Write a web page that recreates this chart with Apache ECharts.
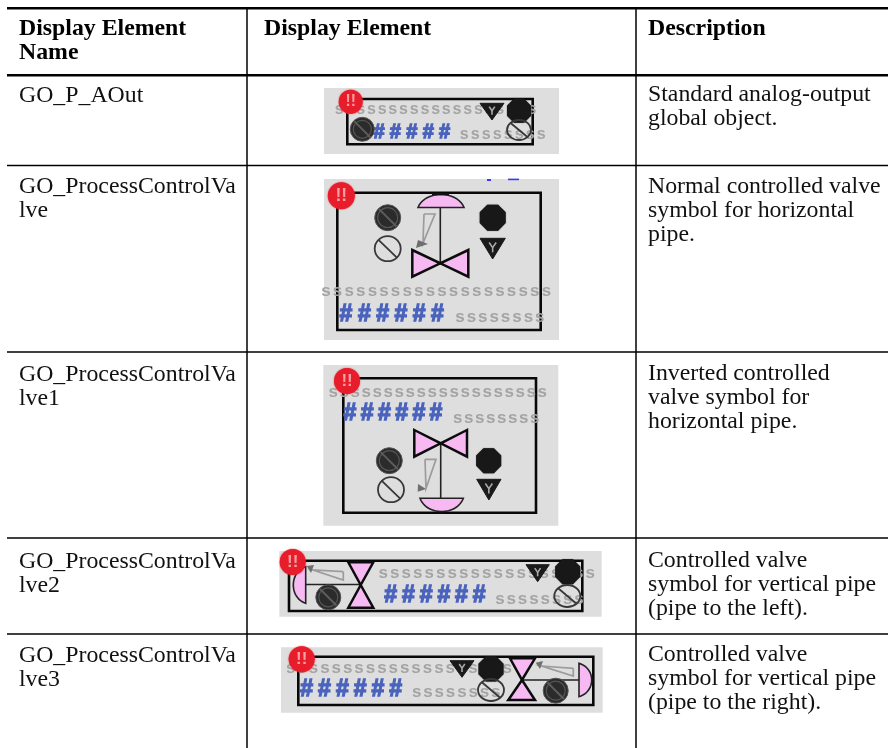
<!DOCTYPE html>
<html><head><meta charset="utf-8">
<style>html,body{margin:0;padding:0;background:#fff}#c{width:888px;height:748px}</style>
<script src="https://cdn.jsdelivr.net/npm/echarts@6/dist/echarts.min.js"></script>
</head><body><div id="c"></div>
<script>
const headers = [["Display Element","Name"],["Display Element"],["Description"]];
const elementNames = [["GO_P_AOut"],["GO_ProcessControlVa","lve"],["GO_ProcessControlVa","lve1"],["GO_ProcessControlVa","lve2"],["GO_ProcessControlVa","lve3"]];
const descriptions = [
 ["Standard analog-output","global object."],
 ["Normal controlled valve","symbol for horizontal","pipe."],
 ["Inverted controlled","valve symbol for","horizontal pipe."],
 ["Controlled valve","symbol for vertical pipe","(pipe to the left)."],
 ["Controlled valve","symbol for vertical pipe","(pipe to the right)."]
];

const g = [];
const SERIF = '"Liberation Serif","Times New Roman",serif';
const SANS = '"Liberation Sans",Arial,sans-serif';
const PINK = '#f6b9f2', INK = '#0c0c0c';

function text(t,x,y,font,fill){
  g.push({type:'text',z:12,style:{text:t,x:x,y:y,font:font,fill:fill,align:'left',verticalAlign:'top'}});
}
function line(x1,y1,x2,y2,w,c,z){g.push({type:'line',shape:{x1,y1,x2,y2},style:{stroke:c||'#000',lineWidth:w},z:z||2});}
function rect(x,y,w,h,st,z){g.push({type:'rect',shape:{x,y,width:w,height:h},style:st,z:z||3});}
function poly(pts,st,z){g.push({type:'polygon',shape:{points:pts},style:st,z:z||5});}

function alarm(x,y,r){
  g.push({type:'circle',shape:{cx:x,cy:y,r:r},style:{fill:'#e81d2c',shadowBlur:1.5,shadowColor:'#e81d2c'},z:10});
  g.push({type:'text',z:11,style:{text:'!!',x:x,y:y,font:'bold '+(r*1.3)+'px '+SANS,fill:'#f7a0a0',align:'center',verticalAlign:'middle'}});
}
function sRow(x,y,n,dx,size){
  for(let i=0;i<n;i++){
    g.push({type:'text',z:7,style:{text:'s',x:x+i*dx,y:y,font:'bold '+size+'px '+SANS,fill:'#a4a4a4',align:'center',verticalAlign:'middle',shadowBlur:1.5,shadowColor:'#a89878'}});
  }
}
function hashRow(x,y,n,dx,size){
  for(let i=0;i<n;i++){
    g.push({type:'text',z:7,style:{text:'#',x:x+i*dx,y:y,font:'bold '+size+'px '+SANS,fill:'#4a63bd',stroke:'#4a63bd',lineWidth:1.3,align:'center',verticalAlign:'middle',shadowBlur:1,shadowColor:'#4a63bd'}});
  }
}
function slash(x,y,rx,ry,c,w){
  const k=0.66;
  line(x-rx*k,y-ry*k,x+rx*k,y+ry*k,w,c,9);
}
function darkCircle(x,y,r){
  g.push({type:'circle',shape:{cx:x,cy:y,r:r},style:{fill:'#2b2b2b',stroke:'#555',lineWidth:1},z:8});
  g.push({type:'circle',shape:{cx:x,cy:y,r:r-3},style:{fill:'none',stroke:'#555',lineWidth:1.2},z:9});
  slash(x,y,r,r,'#5c5c5c',2);
}
function openCircle(x,y,rx,ry){
  g.push({type:'ellipse',shape:{cx:x,cy:y,rx:rx,ry:ry},style:{fill:'none',stroke:'#383838',lineWidth:1.8},z:9});
  slash(x,y,rx*1.1,ry*1.1,'#383838',1.8);
}
function octagon(x,y,r){
  const p=[];for(let i=0;i<8;i++){const a=Math.PI/8+i*Math.PI/4;p.push([x+r*Math.cos(a),y+r*Math.sin(a)]);}
  poly(p,{fill:'#181818',shadowBlur:1,shadowColor:'#181818'},8);
}
function vTri(x1,x2,y1,y2){
  const m=(x1+x2)/2,h=y2-y1;
  poly([[x1,y1],[x2,y1],[m,y2]],{fill:'#1a1a1a',stroke:'#1a1a1a',lineWidth:1,lineJoin:'round'},8);
  const c='#a8a8a8';
  g.push({type:'polyline',shape:{points:[[m-h*0.17,y1+h*0.2],[m,y1+h*0.45],[m+h*0.17,y1+h*0.2]]},style:{fill:'none',stroke:c,lineWidth:1.6},z:9});
  line(m,y1+h*0.45,m,y1+h*0.68,1.6,c,9);
}
function ramp(pts,tip,tipBase){
  g.push({type:'polyline',shape:{points:pts.concat([pts[0]])},style:{fill:'none',stroke:'#9c9c9c',lineWidth:1.7},z:5});
  poly([tip].concat(tipBase),{fill:'#6e6e6e'},5);
}
function valveBody(pts){
  poly(pts,{fill:PINK,stroke:INK,lineWidth:2.5,lineJoin:'miter'},5);
}
function bez(p0,p1,p2,p3){
  const out=[];
  for(let i=0;i<=24;i++){const t=i/24,u=1-t;
    out.push([u*u*u*p0[0]+3*u*u*t*p1[0]+3*u*t*t*p2[0]+t*t*t*p3[0],u*u*u*p0[1]+3*u*u*t*p1[1]+3*u*t*t*p2[1]+t*t*t*p3[1]]);}
  return out;
}
function domeDown(x1,x2,y,top){ // flat edge at y, bulge to top
  const h=(top-y)*4/3;
  poly(bez([x1,y],[x1+(x2-x1)*0.15,y+h],[x2-(x2-x1)*0.15,y+h],[x2,y]),{fill:PINK,stroke:'#222',lineWidth:1.6});
}
function domeSide(x,bulge,y1,y2){
  const b=x+(bulge-x)*4/3;
  poly(bez([x,y1],[b,y1+(y2-y1)*0.15],[b,y2-(y2-y1)*0.15],[x,y2]),{fill:PINK,stroke:'#222',lineWidth:1.6});
}
function frame(x1,y1,x2,y2){rect(x1,y1,x2-x1,y2-y1,{fill:'none',stroke:'#080808',lineWidth:2.6});}
function bg(x1,y1,x2,y2){rect(x1,y1,x2-x1,y2-y1,{fill:'#dedede'},1);}

// table rules
line(7,8.3,888,8.3,2.6);
line(7,75.3,888,75.3,2.6);
line(7,165.5,888,165.5,1.5);
line(7,352,888,352,1.5);
line(7,538,888,538,1.5);
line(7,634,888,634,1.5);
line(247,8,247,748,1.5);
line(636,8,636,748,1.5);

// text
const HF='bold 23.8px '+SERIF, BF='23.8px '+SERIF;
const LH=24;
const nameTop=[84,175,363,550,644], descTop=[83,175,362,549,643];
text(headers[0][0],19,17,HF,'#000');text(headers[0][1],19,41,HF,'#000');
text(headers[1][0],264,17,HF,'#000');
text(headers[2][0],648,17,HF,'#000');
elementNames.forEach((ls,i)=>ls.forEach((t,j)=>text(t,19,nameTop[i]+j*LH,BF,'#111')));
descriptions.forEach((ls,i)=>ls.forEach((t,j)=>text(t,648,descTop[i]+j*LH,BF,'#111')));

// icon 1
bg(324,88,559,154);frame(347.3,99,532.7,144.3);
sRow(339.3,110,19,10.7,16);darkCircle(362.3,129.3,12);hashRow(379,132,5,16.4,20);sRow(464.3,134.5,8,11,16);
vTri(480,504,103.3,120);octagon(519,110.7,13);openCircle(519,130,12,10);alarm(350.7,101.7,12);

// icon 2
bg(324,179,559,340);frame(337.3,192.7,540.7,330);
line(440.3,205,440.3,263,1.6,'#222',4);
domeDown(418,464,207.5,194.5);
line(432,194,449,194,2,'#111',6);
valveBody([[412.3,250],[440.3,263.3],[412.3,276.7]]);valveBody([[468.3,250],[440.3,263.3],[468.3,276.7]]);
ramp([[424,214],[435,214],[423,243]],[416,248],[[418,240],[428,244]]);
darkCircle(387.7,217.7,13);openCircle(387.7,248.7,13,12.5);octagon(492.7,217.7,14);vTri(480,505.3,238.3,259);
sRow(326,291,20,11.6,17);hashRow(346,314.5,6,18.3,23);sRow(460,317.5,8,11.4,17);
rect(508,178.6,11,1.6,{fill:'#3a3aee'},4);rect(487,179,4,2,{fill:'#3a3aee'},4);
alarm(341.3,195.7,13.5);

// icon 3
bg(323.3,365,558.3,525.7);frame(343.3,378.3,536,512.7);
line(440.7,443,440.7,499,1.6,'#222',4);
valveBody([[414.3,430],[440.7,443.3],[414.3,456.7]]);valveBody([[467,430],[440.7,443.3],[467,456.7]]);
domeDown(420,463.3,498.3,511.5);
ramp([[425,459.3],[436,459.3],[426,488.3]],[417.7,491.7],[[418,484],[426,489]]);
darkCircle(389.3,460.7,13);openCircle(391,489.7,13,12.5);octagon(488.7,460.7,13.5);vTri(476.7,501,479.3,500);
sRow(333.3,392.5,20,11,17);hashRow(350,414,6,17.2,23);sRow(457.7,418,8,11,17);
alarm(347,381,13);

// icon 4
bg(279.3,551,601.7,616.7);frame(289,560.7,582.3,611);
line(305.7,584.5,360.7,584.5,1.6,'#222',4);
domeSide(305.7,293.3,566.7,603.3);
valveBody([[348.3,562.3],[373.3,562.3],[360.7,585]]);valveBody([[348.3,607.7],[373.3,607.7],[360.7,585]]);
ramp([[343.3,571.7],[343.3,580],[313,570]],[306.7,566],[[314,565],[311,573]]);
darkCircle(328.3,597.3,12.5);
sRow(383.3,573,19,11.5,17);hashRow(390.7,595.7,6,17.7,23);sRow(500,599,8,11.3,17);
vTri(526,549.3,564.7,581.7);octagon(567.7,571.7,13.5);openCircle(567.3,596,13,11);
alarm(292.7,562,13);

// icon 5
bg(281,647.3,602.7,712.7);frame(298.3,656.7,593.3,705);
line(522,680,579,680,1.6,'#222',4);
domeSide(579,591.7,663.3,696.7);
valveBody([[510,658.3],[535,658.3],[522,680]]);valveBody([[508.3,700],[535,700],[522,680]]);
ramp([[573.3,668.3],[573.3,676],[541.7,666]],[535.7,662.7],[[543,661],[540,669]]);
darkCircle(555.7,690.7,12.5);
sRow(290.7,668,20,11.4,17);hashRow(306.7,689.3,6,17.8,23);sRow(416.7,692.5,8,11.3,17);
vTri(450,474,660.7,677.3);octagon(491,669,13.5);openCircle(491,690,13,11);
alarm(301.7,659.3,13);

const chart = echarts.init(document.getElementById('c'),null,{renderer:'canvas',width:888,height:748});
chart.setOption({animation:false,backgroundColor:'#ffffff',graphic:{elements:g}});
</script></body></html>
